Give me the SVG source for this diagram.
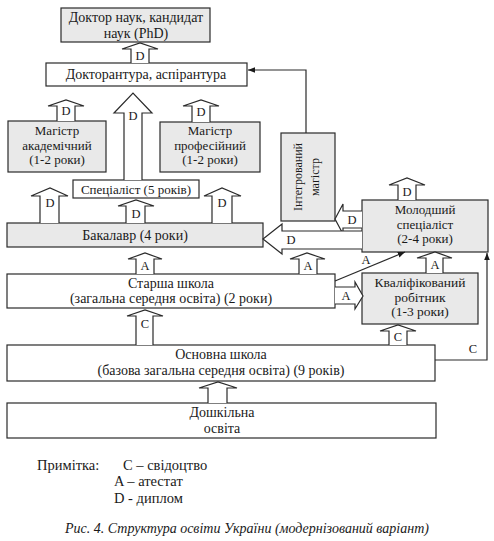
<svg xmlns="http://www.w3.org/2000/svg" width="494" height="541" viewBox="0 0 494 541" font-family="'Liberation Serif', 'DejaVu Serif', serif">
<defs>
<style>
.box{stroke:#2a2a2a;stroke-width:1.2}
.g{fill:#e9e9e9}
.w{fill:#ffffff}
text{font-family:'Liberation Serif','DejaVu Serif',serif;font-size:14px;fill:#1a1a1a}
.c{text-anchor:middle}
.s{font-size:13px}
.lbl{font-size:12.5px;text-anchor:middle}
.ha{fill:#ffffff;stroke:#2a2a2a;stroke-width:1.2;stroke-linejoin:miter}
.ln{fill:none;stroke:#2a2a2a;stroke-width:1.2}
.leg{font-size:14.5px}
.cap{font-style:italic;font-size:14px}
</style>
<marker id="ah" viewBox="0 0 10 10" refX="10" refY="5" markerWidth="6" markerHeight="6" orient="auto-start-reverse">
<path d="M0,1 L10,5 L0,9 Z" fill="#1a1a1a"/>
</marker>
</defs>
<rect width="494" height="541" fill="#ffffff"/>

<g id="phd"><rect class="box g" x="61" y="8" width="149" height="34"/><text class="c" x="136" y="22">Доктор наук, кандидат</text><text class="c" x="136" y="37.5">наук (PhD)</text></g>
<g id="doktorantura"><rect class="box w" x="46" y="63" width="201" height="23"/><text class="c" x="146" y="79">Докторантура, аспірантура</text></g>
<g id="magistr-akad"><rect class="box g" x="8" y="121" width="98" height="51"/><text class="c s" x="57" y="135">Магістр</text><text class="c s" x="57" y="149.5">академічний</text><text class="c s" x="57" y="164">(1-2 роки)</text></g>
<g id="magistr-prof"><rect class="box g" x="160" y="122" width="100" height="50"/><text class="c s" x="210" y="135">Магістр</text><text class="c s" x="210" y="149.5">професійний</text><text class="c s" x="210" y="164">(1-2 роки)</text></g>
<g id="specialist"><rect class="box w" x="73" y="180" width="126" height="18"/><text class="c s" x="136" y="193.5">Спеціаліст (5 років)</text></g>
<g id="integr"><rect class="box g" x="281" y="133" width="54" height="88"/><g transform="translate(308,177) rotate(-90)"><text class="c" x="0" y="-6" style="font-size:12px">Інтегрований</text><text class="c" x="0" y="11" style="font-size:12px">магістр</text></g></g>
<g id="bakalavr"><rect class="box g" x="7" y="223" width="256" height="24"/><text class="c" x="135" y="240">Бакалавр (4 роки)</text></g>
<g id="molodshyi"><rect class="box g" x="362" y="200" width="126" height="52"/><text class="c s" x="425" y="214">Молодший</text><text class="c s" x="425" y="228.5">спеціаліст</text><text class="c s" x="425" y="243">(2-4 роки)</text></g>
<g id="starsha"><rect class="box w" x="7" y="274" width="328" height="34"/><text class="c" x="171" y="287.5">Старша школа</text><text class="c" x="171" y="303">(загальна середня освіта) (2 роки)</text></g>
<g id="kvalif"><rect class="box g" x="362" y="273" width="116" height="51"/><text class="c" x="420" y="287" style="font-size:13.5px">Кваліфікований</text><text class="c" x="420" y="301.5" style="font-size:13.5px">робітник</text><text class="c" x="420" y="316" style="font-size:13.5px">(1-3 роки)</text></g>
<g id="osnovna"><rect class="box w" x="7" y="345" width="428" height="36"/><text class="c" x="221" y="359">Основна школа</text><text class="c" x="221" y="374.5">(базова загальна середня освіта) (9 років)</text></g>
<g id="doshkilna"><rect class="box w" x="7" y="403" width="429" height="35"/><text class="c" x="222" y="417">Дошкільна</text><text class="c" x="222" y="432.5">освіта</text></g>

<g id="connectors">
<polyline class="ha" points="131,63 131,49 122,49 140,43 158,49 149,49 149,63"/><text class="lbl" x="140" y="60">D</text>
<polyline class="ha" points="124,180 124,113 114,113 133,93 152,113 142,113 142,180"/><text class="lbl" x="133" y="120">D</text>
<polyline class="ha" points="57,121 57,106 48,106 66,100 84,106 75,106 75,121"/><text class="lbl" x="66" y="115">D</text>
<polyline class="ha" points="192,122 192,106 183,106 201,100 219,106 210,106 210,122"/><text class="lbl" x="201" y="116">D</text>
<polyline class="ha" points="40,223 40,196 31,196 50,188 68,196 59,196 59,223"/><text class="lbl" x="50" y="207">D</text>
<polyline class="ha" points="126,223 126,206 118,206 136,200 154,206 145,206 145,223"/><text class="lbl" x="136" y="218">D</text>
<polyline class="ha" points="212,223 212,196 204,196 222,188 241,196 232,196 232,223"/><text class="lbl" x="222" y="207">D</text>
<polyline class="ha" points="398,200 398,185 389,185 407,178 425,185 416,185 416,200"/><text class="lbl" x="407" y="196">D</text>
<polyline class="ha" points="136,274 136,259 128,259 145,253 162,259 154,259 154,274"/><text class="lbl" x="145" y="270">A</text>
<polyline class="ha" points="299,274 299,259 290,259 307,253 325,259 317,259 317,274"/><text class="lbl" x="308" y="270">A</text>
<polyline class="ha" points="426,273 426,258 417,258 435,252 452,258 443,258 443,273"/><text class="lbl" x="435" y="269">A</text>
<polyline class="ha" points="136,345 136,316 127,316 145,310 163,316 153,316 153,345"/><text class="lbl" x="145" y="328">C</text>
<polyline class="ha" points="389,345 389,331 380,331 398,325 416,331 407,331 407,345"/><text class="lbl" x="398" y="341">C</text>
<polyline class="ha" points="208,403 208,388 199,388 218,382 237,388 227,388 227,403"/>
<polyline class="ha" points="362,211 343,211 343,204 335,219 343,234 343,228 362,228"/><text class="lbl" x="352" y="224">D</text>
<polyline class="ha" points="362,231 282,231 282,224 263,239 282,254 282,249 362,249"/><text class="lbl" x="291" y="244">D</text>
<polyline class="ha" points="335,287 355,287 355,282 363,296 355,309 355,304 335,304"/><text class="lbl" x="346" y="300">A</text>
<polyline class="ln" points="306,133 306,70 248,70" marker-end="url(#ah)"/>
<line class="ln" x1="335" y1="281" x2="405" y2="252" marker-end="url(#ah)"/><text class="lbl" x="366" y="264">A</text>
<polyline class="ln" points="435,360 487,360 487,253" marker-end="url(#ah)"/><text class="lbl" x="473" y="353">C</text>
</g>

<g id="legend">
<text class="leg" x="37" y="470">Примітка:</text>
<text class="leg" x="123" y="470">C – свідоцтво</text>
<text class="leg" x="114" y="486">A – атестат</text>
<text class="leg" x="114" y="503">D - диплом</text>
<text class="cap" x="247" y="533" text-anchor="middle">Рис. 4. Структура освіти України (модернізований варіант)</text>
</g>
</svg>
